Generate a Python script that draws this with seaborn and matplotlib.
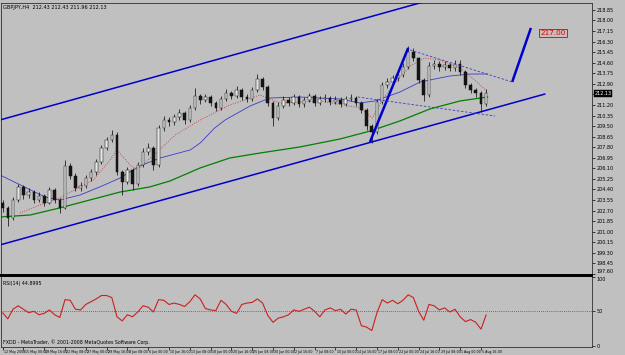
import numpy as np
import pandas as pd
import matplotlib
matplotlib.use("Agg")
import matplotlib.pyplot as plt
import matplotlib.transforms as mtransforms
import seaborn as sns

# ---------------- data ----------------
candle_open = [203.31, 202.91, 202.10, 203.55, 204.60, 203.95, 204.19, 203.55, 203.87, 203.31,
               204.36, 203.55, 202.91, 206.29, 205.48, 204.52, 204.68, 205.32, 205.80, 206.61,
               207.74, 208.38, 208.78, 205.80, 205.00, 205.97, 204.84, 206.37, 207.41, 207.74,
               206.37, 209.35, 209.99, 209.83, 210.23, 210.55, 209.99, 210.96, 211.92, 211.60,
               211.84, 211.36, 210.96, 211.68, 212.16, 211.92, 212.41, 211.84, 211.68, 212.41,
               213.29, 212.65, 211.36, 210.15, 211.12, 211.60, 211.36, 211.84, 211.28, 211.60,
               211.92, 211.36, 211.68, 211.76, 211.44, 211.60, 211.28, 211.68, 211.76, 211.36,
               210.80, 209.51, 209.02, 211.44, 212.81, 213.05, 213.37, 213.61, 214.26, 215.46,
               214.98, 213.21, 212.00, 214.34, 214.50, 214.26, 214.42, 214.18, 214.50, 213.85,
               212.81, 212.41, 212.16, 211.28]
candle_close = [202.91, 202.10, 203.55, 204.60, 203.95, 204.19, 203.55, 203.87, 203.31, 204.36,
                203.55, 202.91, 206.29, 205.48, 204.52, 204.68, 205.32, 205.80, 206.61, 207.74,
                208.38, 208.78, 205.80, 205.00, 205.97, 204.84, 206.37, 207.41, 207.74, 206.37,
                209.35, 209.99, 209.83, 210.23, 210.55, 209.99, 210.96, 211.92, 211.60, 211.84,
                211.36, 210.96, 211.68, 212.16, 211.92, 212.41, 211.84, 211.68, 212.41, 213.29,
                212.65, 211.36, 210.15, 211.12, 211.60, 211.36, 211.84, 211.28, 211.60, 211.92,
                211.36, 211.68, 211.76, 211.44, 211.60, 211.28, 211.68, 211.76, 211.36, 210.80,
                209.51, 209.02, 211.44, 212.81, 213.05, 213.37, 213.61, 214.26, 215.46, 214.98,
                213.21, 212.00, 214.34, 214.50, 214.26, 214.42, 214.18, 214.50, 213.85, 212.81,
                212.41, 212.16, 211.28, 212.13]
candle_high = [203.55, 203.10, 203.80, 204.85, 204.75, 204.50, 204.35, 204.20, 204.05, 204.60,
               204.50, 203.70, 206.77, 206.50, 205.70, 205.00, 205.55, 206.05, 206.85, 208.00,
               208.65, 209.20, 209.00, 206.00, 206.20, 206.10, 206.60, 207.70, 208.10, 207.90,
               209.60, 210.30, 210.20, 210.50, 210.85, 210.70, 211.20, 212.57, 212.10, 212.10,
               212.00, 211.50, 211.90, 212.45, 212.35, 212.70, 212.55, 212.05, 212.65, 213.69,
               213.45, 212.80, 211.50, 211.40, 211.90, 211.85, 212.10, 212.00, 211.85, 212.20,
               212.05, 211.95, 212.05, 211.95, 211.90, 211.80, 211.95, 212.05, 211.90, 211.50,
               210.95, 209.70, 211.70, 213.05, 213.35, 213.65, 213.90, 214.55, 215.95, 215.75,
               215.10, 213.40, 214.65, 214.82, 214.70, 214.75, 214.60, 214.82, 214.82, 214.00,
               213.00, 212.60, 212.35, 212.45]
candle_low = [202.60, 201.46, 201.90, 203.40, 203.60, 203.70, 203.30, 203.35, 203.05, 203.20,
              203.30, 202.50, 202.80, 205.20, 204.30, 204.25, 204.50, 205.10, 205.60, 206.45,
              207.55, 208.20, 205.55, 203.95, 204.80, 204.36, 204.70, 206.20, 207.20, 205.97,
              206.20, 209.10, 209.50, 209.60, 210.00, 209.70, 209.80, 210.80, 211.30, 211.40,
              211.10, 210.70, 210.80, 211.50, 211.65, 211.75, 211.60, 211.40, 211.50, 212.25,
              212.40, 211.10, 209.51, 210.00, 210.95, 211.10, 211.20, 211.05, 211.05, 211.45,
              211.10, 211.20, 211.45, 211.20, 211.25, 211.00, 211.15, 211.50, 211.10, 210.55,
              209.20, 208.14, 208.90, 211.30, 212.55, 212.80, 213.15, 213.45, 214.10, 214.70,
              212.95, 211.52, 211.85, 214.10, 213.95, 214.05, 213.90, 213.95, 213.60, 212.55,
              212.15, 211.85, 210.63, 211.10]

rsi_values = [48, 39, 53, 58, 53, 48, 50, 45, 47, 52,
              45, 41, 67, 66, 53, 52, 60, 64, 68, 73,
              73, 70, 42, 36, 45, 42, 49, 58, 56, 49,
              67, 66, 60, 62, 60, 57, 64, 74, 68, 54,
              52, 51, 66, 60, 50, 47, 60, 62, 63, 68,
              62, 44, 34, 40, 42, 45, 52, 50, 53, 56,
              50, 42, 52, 55, 51, 53, 46, 53, 52, 29,
              27, 22, 48, 67, 62, 66, 61, 66, 74, 70,
              50, 37, 60, 58, 52, 55, 49, 53, 42, 35,
              38, 34, 24, 44.9]

# moving averages (bar position, price)
ma_blue_x = [-0.5, 8.15, 11.0, 14.9, 18.7, 22.6, 26.4, 30.3, 36.1, 38.0, 40.8, 42.8,
             47.6, 51.4, 57.2, 64.9, 68.7, 71.6, 76.4, 80.3, 86.0, 89.9, 93.3]
ma_blue_y = [205.56, 203.79, 203.55, 203.95, 204.60, 205.32, 206.29, 206.93, 207.58, 208.14,
             209.35, 209.99, 211.12, 211.76, 211.84, 211.68, 211.36, 211.52, 212.24, 213.05,
             213.53, 213.69, 213.69]
ma_red_x = [3.3, 7.2, 11.0, 13.9, 17.4, 20.7, 22.0, 24.5, 25.9, 29.7, 33.2, 38.0, 43.7,
            49.5, 53.3, 61.1, 68.7, 71.1, 73.0, 75.5, 78.4, 81.2, 84.1, 87.95, 90.8, 93.3]
ma_red_y = [202.50, 203.15, 203.71, 204.36, 205.16, 206.77, 207.58, 206.37, 205.97, 207.41,
            208.78, 209.99, 211.20, 212.00, 211.36, 211.52, 210.96, 210.15, 211.60, 212.97,
            214.34, 214.98, 214.82, 214.18, 213.21, 212.24]
ma_green_x = [-0.5, 5.3, 11.0, 16.8, 22.6, 28.3, 32.2, 38.0, 43.7, 49.5, 57.2, 64.9,
              70.7, 76.4, 82.2, 87.95, 93.3]
ma_green_y = [202.18, 202.34, 202.91, 203.55, 204.19, 204.60, 205.08, 206.13, 206.93, 207.33,
              207.82, 208.46, 209.10, 209.91, 210.88, 211.52, 211.84]

# drawn objects (bar position, price)
channel_low_x, channel_low_y = [-0.5, 104.3], [199.93, 212.08]
channel_up_x, channel_up_y = [-0.5, 84.0], [209.99, 219.85]
thrust_x, thrust_y = [70.65, 78.0], [208.22, 215.79]
proj_x, proj_y = [98.0, 101.6], [213.05, 217.40]
tri_top_x, tri_top_y = [78.35, 98.0], [215.63, 213.05]
tri_bot_x, tri_bot_y = [68.3, 94.7], [211.84, 210.31]
target_label = "217.00"
target_x, target_price = 103.4, 217.00

price_ticks = [round(197.60 + 0.85 * i, 2) for i in range(26)]
date_labels = ["12 May 2008", "15 May 00:00", "19 May 16:00", "22 May 08:00", "27 May 00:00",
               "29 May 16:00", "3 Jun 08:00", "6 Jun 00:00", "10 Jun 16:00", "13 Jun 08:00",
               "18 Jun 00:00", "20 Jun 16:00", "25 Jun 08:00", "30 Jun 00:00", "2 Jul 16:00",
               "7 Jul 08:00", "10 Jul 00:00", "14 Jul 16:00", "17 Jul 08:00", "22 Jul 00:00",
               "24 Jul 16:00", "29 Jul 08:00", "1 Aug 00:00", "5 Aug 16:00"]
title_text = "GBPJPY,H4  212.43 212.43 211.96 212.13"
rsi_title = "RSI(14) 44.8995"
footer_text = "FXDD - MetaTrader, \u00a9 2001-2008 MetaQuotes Software Corp."
last_price = 212.13

# ---------------- styling ----------------
sns.set_theme(style="white")
plt.rcParams['font.family'] = ['DejaVu Sans']
BG = "#c0c0c0"

fig = plt.figure(figsize=(6.25, 3.55), dpi=100, facecolor=BG)
# price pane: pixel rows 3..275 ; RSI pane: 276..347 ; date strip below
ax = fig.add_axes([0.0016, 0.2254, 0.9456, 0.7662], facecolor=BG)
ax2 = fig.add_axes([0.0016, 0.0225, 0.9456, 0.2000], facecolor=BG, sharex=ax)

n = len(candle_close)
idx = np.arange(n)
df = pd.DataFrame({"k": idx, "o": candle_open, "c": candle_close,
                   "h": candle_high, "l": candle_low, "rsi": rsi_values})

# candles
ax.vlines(df["k"], df["l"], df["h"], color="#101010", lw=0.55, zorder=3)
up = df["c"] >= df["o"]
body_lo = np.minimum(df["o"], df["c"])
body_h = np.maximum(np.abs(df["c"] - df["o"]), 0.04)
ax.bar(df["k"][up], body_h[up], bottom=body_lo[up], width=0.5,
       color="#e6e6e6", edgecolor="#101010", linewidth=0.35, zorder=4)
ax.bar(df["k"][~up], body_h[~up], bottom=body_lo[~up], width=0.5,
       color="#151515", edgecolor="#101010", linewidth=0.35, zorder=4)

# moving averages
sns.lineplot(x=ma_green_x, y=ma_green_y, ax=ax, color="#008000", lw=0.9, zorder=2)
sns.lineplot(x=ma_blue_x, y=ma_blue_y, ax=ax, color="#3c3cc8", lw=0.6, zorder=2)
sns.lineplot(x=ma_red_x, y=ma_red_y, ax=ax, color="#c84848", lw=0.7,
             linestyle=(0, (1, 1.5)), zorder=2)

# drawn objects
ax.plot(channel_low_x, channel_low_y, color="#0000c8", lw=1.1, zorder=5)
ax.plot(channel_up_x, channel_up_y, color="#0000c8", lw=1.1, zorder=5)
ax.plot(thrust_x, thrust_y, color="#0000d0", lw=1.8, zorder=5, solid_capstyle="butt")
ax.plot(proj_x, proj_y, color="#0000d0", lw=1.8, zorder=5, solid_capstyle="butt")
ax.plot(tri_top_x, tri_top_y, color="#3c3cc8", lw=0.6, ls=(0, (3, 2)), zorder=5)
ax.plot(tri_bot_x, tri_bot_y, color="#3c3cc8", lw=0.6, ls=(0, (3, 2)), zorder=5)
ax.text(target_x, target_price, target_label, color="#e00000", fontsize=5.2,
        va="center", ha="left", zorder=6,
        bbox=dict(boxstyle="square,pad=0.15", fc="#c8bcbc", ec="#e00000", lw=0.6))

# axes limits / ticks
ax.set_xlim(-0.31, 113.35)
ax.set_ylim(197.51, 219.41)
ax.yaxis.tick_right()
ax.set_yticks(price_ticks)
# the tick label under the current-price marker is hidden by it in the reference
tick_text = ["" if abs(p - last_price) < 0.3 else f"{p:.2f}" for p in price_ticks]
ax.set_yticklabels(tick_text)
ax.tick_params(axis="y", which="both", direction="out", length=2, width=0.5,
               colors="#000000", labelsize=3.5, pad=1.2, right=True, left=False)
ax.get_yticklabels()[0].set_verticalalignment("bottom")
ax.tick_params(axis="x", bottom=False, labelbottom=False)
ax.set_xlabel("")
ax.set_ylabel("")
for s in ["left", "top", "right"]:
    ax.spines[s].set_color("#303030")
    ax.spines[s].set_linewidth(0.6)
ax.spines["bottom"].set_color("#000000")
ax.spines["bottom"].set_linewidth(1.4)

# current price marker
trans = mtransforms.blended_transform_factory(ax.transAxes, ax.transData)
ax.text(1.004, last_price, f"{last_price:.2f}", transform=trans, color="white",
        fontsize=3.5, va="center", ha="left", zorder=7,
        bbox=dict(boxstyle="square,pad=0.15", fc="black", ec="black", lw=0.3))

ax.text(0.004, 0.992, title_text, transform=ax.transAxes, fontsize=3.6,
        va="top", ha="left", color="black")

# RSI pane
sns.lineplot(data=df, x="k", y="rsi", ax=ax2, color="#cc2020", lw=0.8)
ax2.axhline(50, color="#505050", lw=0.6, ls=(0, (1, 1.5)))
ax2.set_ylim(-2.0, 101.4)
ax2.yaxis.tick_right()
ax2.set_yticks([0, 50, 100])
ax2.set_yticklabels(["0", "50", "100"])
ax2.tick_params(axis="y", direction="out", length=2, width=0.5, labelsize=3.5,
                pad=1.2, colors="black", right=True, left=False)
ax2.get_yticklabels()[2].set_verticalalignment("top")
ax2.set_xticks(np.arange(0, 4 * len(date_labels), 4))
ax2.set_xticklabels(date_labels)
ax2.tick_params(axis="x", direction="out", length=2, width=0.5, labelsize=2.3,
                pad=0.4, colors="black", bottom=True)
offset = mtransforms.ScaledTranslation(1.2 / 100, 0, fig.dpi_scale_trans)
for lbl in ax2.get_xticklabels():
    lbl.set_horizontalalignment("left")
    lbl.set_transform(lbl.get_transform() + offset)
ax2.set_xlabel("")
ax2.set_ylabel("")
for s in ["left", "right", "bottom"]:
    ax2.spines[s].set_color("#303030")
    ax2.spines[s].set_linewidth(0.6)
ax2.spines["top"].set_color("#000000")
ax2.spines["top"].set_linewidth(1.4)
ax2.text(0.004, 0.93, rsi_title, transform=ax2.transAxes, fontsize=3.4,
         va="top", ha="left", color="black")
ax2.text(0.004, 0.03, footer_text, transform=ax2.transAxes, fontsize=3.4,
         va="bottom", ha="left", color="black")

fig.savefig("out.png", dpi=100, facecolor=BG)
